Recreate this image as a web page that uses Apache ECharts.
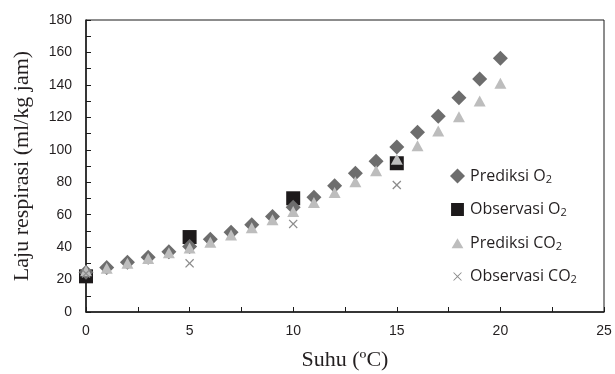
<!DOCTYPE html>
<html><head><meta charset="utf-8">
<script src="https://cdn.jsdelivr.net/npm/echarts@6/dist/echarts.min.js"></script>
<style>html,body{margin:0;padding:0;background:#fff}#c{width:615px;height:374px}</style>
</head><body><div id="c"></div>
<script>
const suhuPred = [0,1,2,3,4,5,6,7,8,9,10,11,12,13,14,15,16,17,18,19,20];
const prediksiO2 = [24.5,27.5,30.6,33.7,37.2,40.3,44.8,49.1,53.8,58.8,64.5,70.7,77.8,85.5,92.9,101.7,110.8,120.6,132.1,143.6,156.4];
const prediksiCO2 = [25.5,27,30,33,36.5,39.5,43,47.5,52,56.8,62,67.5,73.6,80.3,87.1,94.1,102.5,111.6,120.4,130.1,141.0];
const suhuObs = [0,5,10,15];
const observasiO2 = [22,46.2,70.1,91.7];
const observasiCO2 = [23.8,30.0,54.3,78.3];
const xTicks = {min:0,max:25,interval:5};
const yTicks = {min:0,max:180,interval:20};

const crossPath = 'path://M1,0L5,4L9,0L10,1L6,5L10,9L9,10L5,6L1,10L0,9L4,5L0,1Z';
// tiny corner dots keep legend icons at their reference size inside a common box
const corners = 'M0,0L0.02,0L0,0.02ZM14,14L13.98,14L14,13.98Z';
const legendCross = 'path://' + corners + 'M3.6,3L7,6.4L10.4,3L11,3.6L7.6,7L11,10.4L10.4,11L7,7.6L3.6,11L3,10.4L6.4,7L3,3.6Z';
const legendTri = 'path://' + corners + 'M7,2.5L12.5,12L1.5,12Z';
const legendRect = 'path://' + corners + 'M1,1L13,1L13,13L1,13Z';
const pair = (xs, ys) => xs.map((x,i)=>[x, ys[i]]);
const legendRich = {sub:{fontSize:11, verticalAlign:'bottom', padding:[7,0,0,0], fontFamily:'Open Sans', color:'#231f20'}};

const chart = echarts.init(document.getElementById('c'));
chart.setOption({
  animation:false,
  grid:{left:86,right:11,top:20,bottom:62,outerBoundsMode:'none',containLabel:false,show:true,borderColor:'#1a1a1a',borderWidth:1},
  xAxis:{type:'value',min:xTicks.min,max:xTicks.max,interval:xTicks.interval,
    name:'Suhu (ºC)',nameLocation:'middle',nameGap:37,
    nameTextStyle:{fontFamily:'Liberation Serif',fontSize:22,color:'#231f20'},
    axisLine:{show:true,lineStyle:{color:'#1a1a1a',width:1.5}},
    axisTick:{show:true,inside:true,length:5,lineStyle:{color:'#1a1a1a'}},
    minorTick:{show:true,splitNumber:2,length:5,lineStyle:{color:'#1a1a1a'}},
    splitLine:{show:false},
    axisLabel:{fontFamily:'Liberation Sans',fontSize:14,color:'#231f20',margin:12}},
  yAxis:{type:'value',min:yTicks.min,max:yTicks.max,interval:yTicks.interval,
    name:'Laju respirasi (ml/kg jam)',nameLocation:'middle',nameGap:53,
    nameTextStyle:{fontFamily:'Liberation Serif',fontSize:22,color:'#231f20'},
    axisLine:{show:true,lineStyle:{color:'#1a1a1a',width:1.5}},
    axisTick:{show:true,inside:true,length:5,lineStyle:{color:'#1a1a1a'}},
    minorTick:{show:true,splitNumber:2,length:5,lineStyle:{color:'#1a1a1a'}},
    splitLine:{show:false},
    axisLabel:{fontFamily:'Liberation Sans',fontSize:14,color:'#231f20',margin:14}},
  legend:{orient:'vertical',left:445,top:163,itemGap:16.5,itemWidth:15,itemHeight:15,
    textStyle:{fontFamily:'Open Sans',fontSize:16,color:'#231f20',rich:legendRich},
    formatter:function(n){return n.replace('2','{sub|2}');},
    data:[{name:'Prediksi O2',icon:'diamond'},{name:'Observasi O2',icon:legendRect},
          {name:'Prediksi CO2',icon:legendTri},{name:'Observasi CO2',icon:legendCross}]},
  series:[
    {name:'Prediksi O2',type:'scatter',symbol:'diamond',symbolSize:15,itemStyle:{color:'#6d6d6d',opacity:1},data:pair(suhuPred,prediksiO2),z:3},
    {name:'Prediksi CO2',type:'scatter',symbol:'triangle',symbolSize:[12,11],itemStyle:{color:'#bdbdbd',opacity:1},data:pair(suhuPred,prediksiCO2),z:4},
    {name:'Observasi O2',type:'scatter',symbol:'rect',symbolSize:14,itemStyle:{color:'#1d1a1b',opacity:1},data:pair(suhuObs,observasiO2),z:2},
    {name:'Observasi CO2',type:'scatter',symbol:crossPath,symbolSize:9,itemStyle:{color:'#8c8c8c',opacity:1},data:pair(suhuObs,observasiCO2),z:5}
  ]
});
</script></body></html>
